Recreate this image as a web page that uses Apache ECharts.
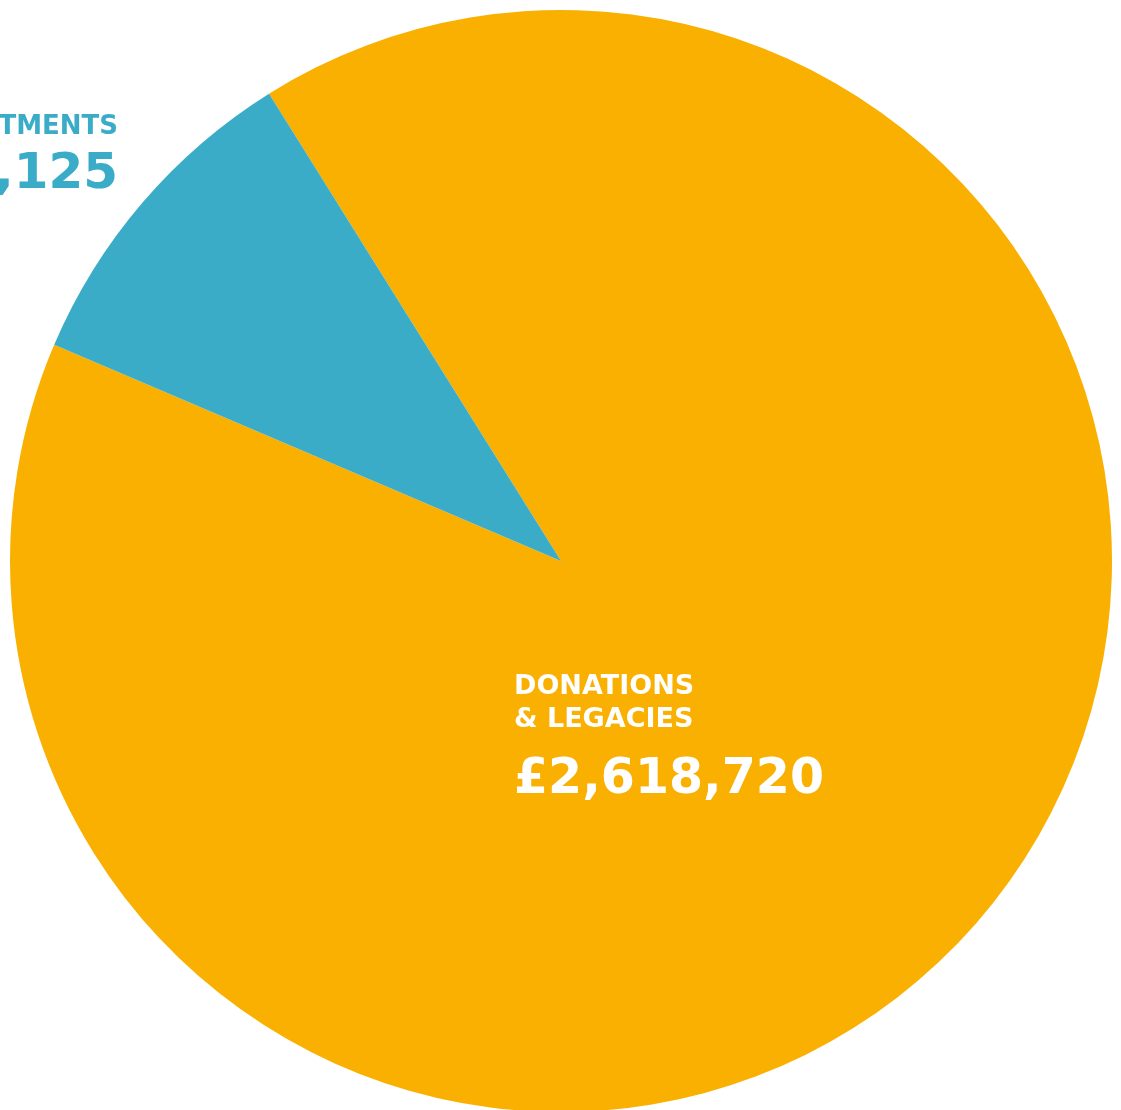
<!DOCTYPE html>
<html>
<head>
<meta charset="utf-8">
<script src="https://cdn.jsdelivr.net/npm/echarts@6/dist/echarts.min.js"></script>
<style>
html,body{margin:0;padding:0;background:#fff;}
#chart{width:1121px;height:1110px;}
</style>
</head>
<body>
<div id="chart"></div>
<script>
const categories = ['DONATIONS\n& LEGACIES', 'INVESTMENTS'];
const values = [2618720, 281125];
const valueLabels = ['£2,618,720', '£281,125'];
const colors = ['#F9B000', '#3AACC8'];

const chart = echarts.init(document.getElementById('chart'), null, {renderer: 'canvas'});
const FONT = '"DejaVu Sans", sans-serif';

function labelText(i, valueStyle) {
  return categories[i].split('\n').map(s => '{n|' + s + '}').join('\n') + '\n{' + valueStyle + '|' + valueLabels[i] + '}';
}

chart.setOption({
  animation: false,
  series: [{
    type: 'pie',
    z: 1,
    center: [561, 561],
    radius: [0, 551],
    startAngle: 122,
    clockwise: true,
    itemStyle: { borderWidth: 0 },
    label: { show: false },
    labelLine: { show: false },
    emphasis: { disabled: true },
    data: categories.map((c, i) => ({ name: c, value: values[i], itemStyle: { color: colors[i] } }))
  }],
  graphic: [
    {
      type: 'text', x: 514, y: 670, z: 100, zlevel: 1, silent: true,
      style: {
        text: labelText(0, 'v'), align: 'left', verticalAlign: 'top',
        rich: {
          n: { fontFamily: FONT, fontWeight: 700, fontSize: 27, lineHeight: 33, fill: '#fff', align: 'left' },
          v: { fontFamily: FONT, fontWeight: 700, fontSize: 49, lineHeight: 88, fill: '#fff', align: 'left' }
        }
      }
    },
    {
      type: 'text', x: 118, y: 111, z: 100, zlevel: 1, silent: true,
      style: {
        text: labelText(1, 'w'), align: 'right', verticalAlign: 'top',
        rich: {
          n: { fontFamily: FONT, fontWeight: 700, fontSize: 26, lineHeight: 33, fill: colors[1], align: 'right' },
          w: { fontFamily: FONT, fontWeight: 700, fontSize: 50, lineHeight: 63, fill: colors[1], align: 'right' }
        }
      }
    }
  ]
});
</script>
</body>
</html>
